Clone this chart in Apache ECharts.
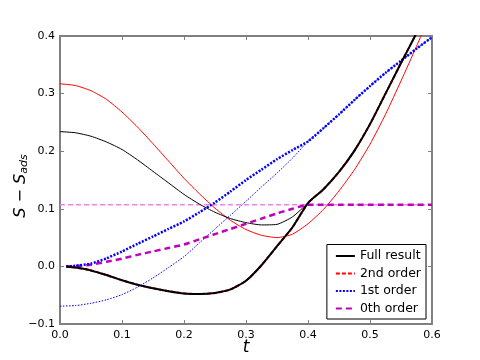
<!DOCTYPE html>
<html>
<head>
<meta charset="utf-8">
<script src="https://cdn.jsdelivr.net/npm/echarts@6/dist/echarts.min.js"></script>
<style>html,body{margin:0;padding:0;background:#fff}#c{width:480px;height:360px}</style>
</head>
<body>
<div id="c"></div>
<script>
// ---- data ----
var T_THIN  = [0, 0.025, 0.05, 0.075, 0.1, 0.125, 0.15, 0.175, 0.2, 0.225, 0.25, 0.275, 0.3, 0.325, 0.35, 0.375, 0.4, 0.425, 0.45, 0.475, 0.5, 0.525, 0.55, 0.575, 0.6];
var T_THICK = [0.01, 0.025, 0.05, 0.075, 0.1, 0.125, 0.15, 0.175, 0.2, 0.225, 0.25, 0.275, 0.3, 0.325, 0.35, 0.375, 0.4, 0.425, 0.45, 0.475, 0.5, 0.525, 0.55, 0.575, 0.6];

var FULL_THICK   = [0, -0.002, -0.007, -0.015, -0.024, -0.032, -0.038, -0.043, -0.047, -0.048, -0.046, -0.040, -0.025, 0.002, 0.035, 0.068, 0.110, 0.134, 0.164, 0.201, 0.247, 0.300, 0.353, 0.405, 0.46];
var SECOND_THICK = [0, -0.002, -0.007, -0.015, -0.024, -0.032, -0.038, -0.043, -0.047, -0.048, -0.046, -0.040, -0.025, 0.002, 0.035, 0.068, 0.110, 0.134, 0.164, 0.201, 0.247, 0.300, 0.353, 0.405, 0.46];
var FIRST_THICK  = [0, 0.001, 0.005, 0.014, 0.026, 0.039, 0.052, 0.065, 0.078, 0.094, 0.111, 0.130, 0.150, 0.168, 0.186, 0.202, 0.217, 0.240, 0.264, 0.289, 0.313, 0.336, 0.357, 0.378, 0.398];
var ZEROTH_THICK = [0, 0.0005, 0.003, 0.008, 0.0135, 0.020, 0.026, 0.032, 0.038, 0.047, 0.056, 0.065, 0.074, 0.083, 0.092, 0.100, 0.107, 0.107, 0.107, 0.107, 0.107, 0.107, 0.107, 0.107, 0.107];

var FULL_THIN    = [0.234, 0.232, 0.226, 0.216, 0.203, 0.185, 0.165, 0.145, 0.125, 0.108, 0.094, 0.083, 0.076, 0.072, 0.073, 0.086, 0.110, 0.134, 0.164, 0.201, 0.247, 0.300, 0.353, 0.405, 0.46];
var SECOND_THIN  = [0.317, 0.314, 0.305, 0.290, 0.268, 0.242, 0.213, 0.183, 0.153, 0.126, 0.101, 0.080, 0.064, 0.054, 0.050, 0.056, 0.074, 0.099, 0.131, 0.168, 0.212, 0.264, 0.322, 0.382, 0.445];
var FIRST_THIN   = [-0.069, -0.068, -0.064, -0.058, -0.049, -0.036, -0.020, -0.002, 0.017, 0.041, 0.065, 0.089, 0.113, 0.138, 0.162, 0.188, 0.217, 0.240, 0.264, 0.289, 0.313, 0.336, 0.357, 0.378, 0.398];
var ZEROTH_THIN  = [0.107, 0.107, 0.107, 0.107, 0.107, 0.107, 0.107, 0.107, 0.107, 0.107, 0.107, 0.107, 0.107, 0.107, 0.107, 0.107, 0.107, 0.107, 0.107, 0.107, 0.107, 0.107, 0.107, 0.107, 0.107];

var LEGEND_NAMES = ['Full result', '2nd order', '1st order', '0th order'];
var X_TICKS = [0, 0.1, 0.2, 0.3, 0.4, 0.5, 0.6];
var Y_TICKS = [-0.1, 0, 0.1, 0.2, 0.3, 0.4];
var X_TITLE = 't';
var Y_TITLE_MAIN = 'S − S';
var Y_TITLE_SUB = 'ads';

function pairs(ts, vs) { return ts.map(function (t, i) { return [t, vs[i]]; }); }

var FONT = 'DejaVu Sans';
var AXC = '#808080';

function mkSeries(name, ts, vs, color, width, dash, z) {
  return {
    name: name, type: 'line', data: pairs(ts, vs), showSymbol: false, symbol: 'none',
    smooth: 0.2, z: z, clip: true,
    lineStyle: { color: color, width: width, type: dash, cap: 'butt' },
    itemStyle: { color: color },
    emphasis: { disabled: true }, animation: false
  };
}

var chart = echarts.init(document.getElementById('c'), null, { renderer: 'canvas' });
var axisCommon = {
  axisLine: { show: true, onZero: false, lineStyle: { color: AXC, width: 2 } },
  axisTick: { show: true, inside: true, length: 4, lineStyle: { color: AXC, width: 1 } },
  splitLine: { show: false }
};
chart.setOption({
  animation: false,
  backgroundColor: '#fff',
  grid: { left: 60, right: 48, top: 36, bottom: 36, containLabel: false, outerBoundsMode: 'none' },
  xAxis: [
    Object.assign({
      type: 'value', min: X_TICKS[0], max: X_TICKS[X_TICKS.length - 1], interval: 0.1,
      name: X_TITLE, nameLocation: 'middle', nameGap: 15, nameMoveOverlap: false,
      nameTextStyle: { fontFamily: FONT, fontStyle: 'italic', fontSize: 17, color: '#000' },
      axisLabel: { fontFamily: FONT, fontSize: 11, color: '#000', margin: 6,
        formatter: function (v) { return v.toFixed(1); } }
    }, axisCommon),
    Object.assign({
      type: 'value', position: 'top', min: X_TICKS[0], max: X_TICKS[X_TICKS.length - 1], interval: 0.1,
      axisLabel: { show: false }
    }, axisCommon)
  ],
  yAxis: [
    Object.assign({
      type: 'value', min: Y_TICKS[0], max: Y_TICKS[Y_TICKS.length - 1], interval: 0.1,
      axisLabel: { fontFamily: FONT, fontSize: 11, color: '#000', margin: 5,
        formatter: function (v) { return (v < 0 ? '\u2212' : '') + Math.abs(v).toFixed(1); } }
    }, axisCommon),
    Object.assign({
      type: 'value', position: 'right', min: Y_TICKS[0], max: Y_TICKS[Y_TICKS.length - 1], interval: 0.1,
      axisLabel: { show: false }
    }, axisCommon)
  ],
  graphic: [{
    type: 'text', x: 21, y: 186, rotation: Math.PI / 2, silent: true,
    style: {
      text: '{s|' + Y_TITLE_MAIN + '}{sub|' + Y_TITLE_SUB + '}',
      align: 'center', verticalAlign: 'middle',
      rich: {
        s: { fontFamily: FONT, fontStyle: 'italic', fontSize: 16, fill: '#000', lineHeight: 18, verticalAlign: 'middle' },
        sub: { fontFamily: FONT, fontStyle: 'italic', fontSize: 11, fill: '#000', lineHeight: 11, verticalAlign: 'bottom' }
      }
    }
  }],
  legend: {
    data: LEGEND_NAMES, orient: 'vertical', right: 54, bottom: 41,
    backgroundColor: '#fff', borderColor: '#000', borderWidth: 1, borderRadius: 0,
    padding: [5, 5, 4, 8], itemGap: 4.5, itemWidth: 19, itemHeight: 12.5,
    itemStyle: { opacity: 0 },
    textStyle: { fontFamily: FONT, fontSize: 12.5, color: '#000' },
    selectedMode: false
  },
  series: [
    mkSeries('0th thin', T_THIN, ZEROTH_THIN, '#ee82ee', 1.5, [5, 3], 2),
    mkSeries('1st thin', T_THIN, FIRST_THIN, '#0000ff', 1, [1.5, 1.5], 2),
    mkSeries('2nd thin', T_THIN, SECOND_THIN, '#ff0000', 1, 'solid', 2),
    mkSeries('Full thin', T_THIN, FULL_THIN, '#000000', 1, 'solid', 2),
    mkSeries('2nd order', T_THICK, SECOND_THICK, '#ff0000', 2, [4, 2], 3),
    mkSeries('0th order', T_THICK, ZEROTH_THICK, '#bf00bf', 2.5, [6, 4], 4),
    mkSeries('1st order', T_THICK, FIRST_THICK, '#0000ff', 2.5, [2, 1.5], 4),
    mkSeries('Full result', T_THICK, FULL_THICK, '#000000', 2, 'solid', 5)
  ]
});
</script>
</body>
</html>
